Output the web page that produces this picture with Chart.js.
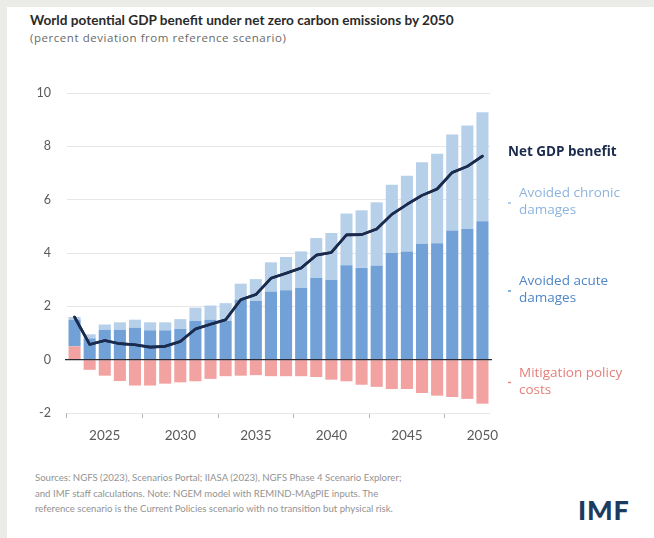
<!DOCTYPE html>
<html>
<head>
<meta charset="utf-8">
<script src="https://cdn.jsdelivr.net/npm/chart.js@4"></script>
<style>
  html, body { margin: 0; padding: 0; }
  body { width: 654px; height: 538px; background: #ebebe8; position: relative; overflow: hidden; font-family: Lato, "Noto Sans", sans-serif; }
  #card { position: absolute; left: 7px; top: 7px; right: 0; bottom: 0; background: #fff; }
  #title { position: absolute; left: 30px; top: 12px; font-size: 13.6px; font-weight: 700; color: #2a2a2a; white-space: nowrap; }
  #subtitle { position: absolute; left: 30px; top: 30px; font-family: "Open Sans", sans-serif; font-size: 11.5px; letter-spacing: 0.55px; color: #6a6a6a; white-space: nowrap; }
  #chart { position: absolute; left: 0; top: 0; }
  #notes { position: absolute; left: 35px; top: 470px; font-size: 9.6px; line-height: 15.5px; color: #939393; white-space: nowrap; }
  #logo { position: absolute; left: 578px; top: 493px; font-size: 27px; font-weight: 900; color: #1d3a5f; letter-spacing: 0.8px; }
</style>
</head>
<body>
<div id="card"></div>
<div id="title">World potential GDP benefit under net zero carbon emissions by 2050</div>
<div id="subtitle">(percent deviation from reference scenario)</div>
<canvas id="chart" width="654" height="470"></canvas>
<div id="notes">Sources: NGFS (2023), Scenarios Portal; IIASA (2023), NGFS Phase 4 Scenario Explorer;<br>and IMF staff calculations. Note: NGEM model with REMIND-MAgPIE inputs. The<br>reference scenario is the Current Policies scenario with no transition but physical risk.</div>
<div id="logo">IMF</div>
<script>
// years 2023..2050
const years = ["2023", "2024", "2025", "2026", "2027", "2028", "2029", "2030", "2031", "2032",
  "2033", "2034", "2035", "2036", "2037", "2038", "2039", "2040", "2041", "2042",
  "2043", "2044", "2045", "2046", "2047", "2048", "2049", "2050"];

const acuteDamages = [1.0, 0.8, 1.12, 1.12, 1.2, 1.1, 1.1, 1.15, 1.45, 1.5,
  1.45, 2.25, 2.2, 2.56, 2.6, 2.7, 3.06, 3.0, 3.54, 3.44,
  3.52, 4.0, 4.06, 4.35, 4.37, 4.84, 4.9, 5.19];

const chronicDamages = [0.1, 0.15, 0.2, 0.28, 0.3, 0.3, 0.3, 0.37, 0.5, 0.53,
  0.67, 0.6, 0.82, 1.09, 1.25, 1.36, 1.5, 1.75, 1.94, 2.16,
  2.38, 2.56, 2.84, 3.05, 3.35, 3.6, 3.88, 4.09];

const mitigationCosts = [0.5, -0.38, -0.6, -0.8, -0.97, -0.97, -0.9, -0.85, -0.81, -0.72,
  -0.62, -0.6, -0.58, -0.62, -0.62, -0.62, -0.65, -0.75, -0.81, -0.94,
  -1.02, -1.1, -1.1, -1.25, -1.35, -1.4, -1.47, -1.65];

const netBenefit = [1.6, 0.57, 0.72, 0.6, 0.56, 0.47, 0.5, 0.68, 1.15, 1.33,
  1.5, 2.25, 2.44, 3.05, 3.24, 3.44, 3.92, 4.02, 4.68, 4.69,
  4.9, 5.45, 5.82, 6.16, 6.4, 7.02, 7.25, 7.63];

const yTicks = [-2, 0, 2, 4, 6, 8, 10];

const NAVY = "#1b2b4d";
const ACUTE = "#72a1d8";
const CHRONIC = "#b7d0ea";
const MITIGATION = "#f2a3a1";

// series labels drawn to the right of the plot, each at a value on the y scale
const sideLabels = {
  id: "sideLabels",
  afterDraw(chart) {
    const ctx = chart.ctx;
    const y = chart.scales.y;
    const x0 = chart.chartArea.right + 18;
    const items = [
      { lines: ["Net GDP benefit"], at: netBenefit[netBenefit.length - 1], color: NAVY, bold: true, dy: -4 },
      { lines: ["Avoided chronic", "damages"], at: 5.9, color: "#8db4de", dash: true },
      { lines: ["Avoided acute", "damages"], at: 2.6, color: "#4f86c8", dash: true },
      { lines: ["Mitigation policy", "costs"], at: -0.83, color: "#e57f79", dash: true }
    ];
    ctx.save();
    ctx.textBaseline = "middle";
    items.forEach(it => {
      const py = y.getPixelForValue(it.at) + (it.dy || 0);
      ctx.font = (it.bold ? "700 13.5px " : "400 13.5px ") + "'Open Sans'";
      ctx.fillStyle = it.color;
      if (it.dash) {
        ctx.fillRect(x0, py, 3, 1.3);
        ctx.fillText(it.lines[0], x0 + 11, py - 9);
        ctx.fillText(it.lines[1], x0 + 11, py + 8);
      } else {
        ctx.fillText(it.lines[0], x0, py);
      }
    });
    ctx.restore();
  }
};

// dark zero line above the bars
const zeroLine = {
  id: "zeroLine",
  afterDatasetsDraw(chart) {
    const ctx = chart.ctx;
    const a = chart.chartArea;
    const py = chart.scales.y.getPixelForValue(0);
    ctx.save();
    ctx.strokeStyle = "#2c2c36";
    ctx.lineWidth = 1.4;
    ctx.beginPath();
    ctx.moveTo(a.left - 2, py);
    ctx.lineTo(a.right + 2, py);
    ctx.stroke();
    // net line again so it sits over the zero line
    const meta = chart.getDatasetMeta(3);
    meta.dataset.draw(ctx, a);
    ctx.restore();
  }
};

new Chart(document.getElementById("chart"), {
  data: {
    labels: years,
    datasets: [
      { type: "bar", label: "Mitigation policy costs", data: mitigationCosts, backgroundColor: MITIGATION, stack: "s", order: 2 },
      { type: "bar", label: "Avoided acute damages", data: acuteDamages, backgroundColor: ACUTE, stack: "s", order: 2 },
      { type: "bar", label: "Avoided chronic damages", data: chronicDamages, backgroundColor: CHRONIC, stack: "s", order: 2 },
      { type: "line", label: "Net GDP benefit", data: netBenefit, borderColor: NAVY, borderWidth: 2.6,
        pointRadius: 0, tension: 0, order: 1, borderJoinStyle: "round", borderCapStyle: "round" }
    ]
  },
  options: {
    responsive: false,
    devicePixelRatio: 1,
    animation: false,
    layout: { padding: { left: 0, right: 164, top: 93, bottom: 0 } },
    datasets: { bar: { categoryPercentage: 1, barPercentage: 0.8 } },
    plugins: { legend: { display: false }, tooltip: { enabled: false } },
    scales: {
      x: {
        stacked: true,
        grid: { drawOnChartArea: false, drawTicks: true, tickLength: 5, color: "#b5b5b5", lineWidth: 1 },
        border: { display: false },
        ticks: {
          autoSkip: false, maxRotation: 0, padding: 10, color: "#5a5a5a",
          font: { family: "Lato", size: 13.5 },
          callback: function (v) {
            const yr = this.getLabelForValue(v);
            return Number(yr) % 5 === 0 ? yr : null;
          }
        },
        afterFit: s => { s.height = 57; }
      },
      y: {
        stacked: true,
        min: -2, max: 10,
        afterBuildTicks: s => { s.ticks = yTicks.map(v => ({ value: v })); },
        grid: { drawTicks: false, color: "#e6e6e6", lineWidth: 1 },
        border: { display: false },
        ticks: { padding: 16, color: "#5a5a5a", font: { family: "Lato", size: 12.5 } },
        afterFit: s => { s.width = 67; }
      }
    }
  },
  plugins: [zeroLine, sideLabels]
});
</script>
</body>
</html>
